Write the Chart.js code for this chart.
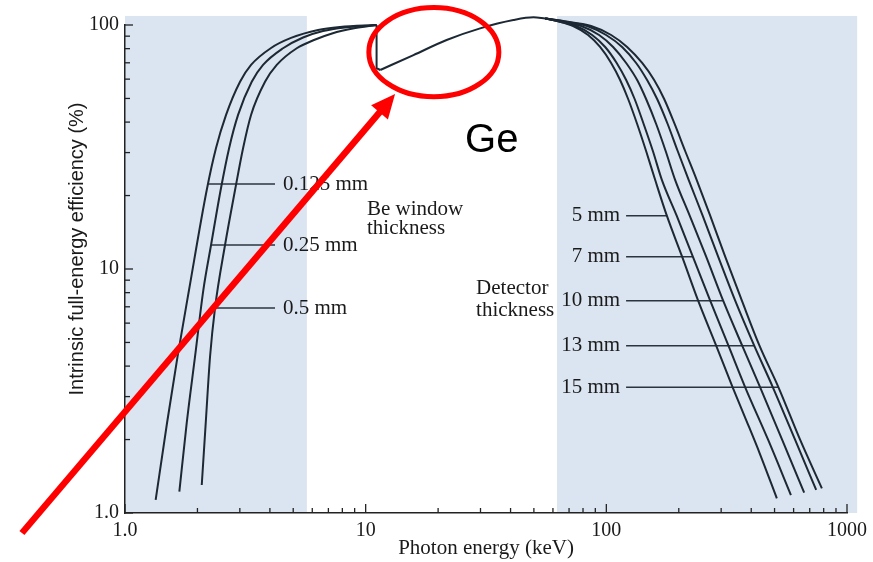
<!DOCTYPE html>
<html><head><meta charset="utf-8">
<script src="https://cdn.jsdelivr.net/npm/chart.js@4.4.1/dist/chart.umd.min.js"></script>
<style>html,body{margin:0;padding:0;background:#fff}canvas{display:block}</style>
</head><body>
<canvas id="c" width="873" height="562"></canvas>
<script>
// ---- Data (photon energy keV / intrinsic full-energy efficiency %) ----
const be0125E   = [1.341,1.495,1.653,1.845,2.186,2.389,2.630,3.006,3.340,4.045,4.897,6.342,7.83,11.1];
const be0125Eff = [1.131,2.338,4.371,8.20,21.07,31.3,42.8,58.5,68.6,80.5,88.5,95.4,98.1,100];
const be025E    = [1.682,1.805,1.954,2.116,2.278,2.506,2.706,2.950,3.362,3.746,4.536,5.493,6.65,8.21,11.1];
const be025Eff  = [1.223,2.34,4.37,8.20,12.54,21.48,31.2,42.8,58.5,68.6,80.3,88.9,94.5,97.7,100];
const be05E     = [2.084,2.165,2.256,2.366,2.604,2.866,3.093,3.340,3.818,4.271,5.172,6.10,7.25,8.95,11.1];
const be05Eff   = [1.302,2.34,4.37,6.92,12.54,21.07,31.2,42.8,58.5,68.6,80.3,86.8,92.3,96.9,100];

const edgeE     = [11.1,11.1,11.5];
const edgeEff   = [100,66.5,65.4];
const riseE     = [11.5,15.8,21.7,29.9,41.1,49.8,55.7];
const riseEff   = [65.4,75.3,86.8,96.9,104.8,107.5,106.3];

const detEff    = [106.3,103.8,99.06,90.99,81.26,69.88,59.5,49.74,39.29,30.45,23.2,16.54,11.23,7.415,4.85,3.275];
const det5E     = [55.7,62.45,72.78,84.0,94.2,104.7,114.1,123.2,134.3,146.3,159.5,178.4,206.5,240.7,286.0,334.9,381.1,433.7,511.0];
const det5Eff   = detEff.concat([2.405,1.757,1.149]);
const det7E     = [55.7,62.45,74.9,87.3,98.9,110.4,120.9,131.1,142.9,156.1,170.1,196.0,228.8,270.1,321.7,377.6,470.5,584.7];
const det7Eff   = detEff.concat([1.992,1.185]);
const det10E    = [55.7,63.65,78.6,93.3,106.7,120.9,134.3,146.3,161.1,176.4,193.1,222.0,259.9,305.8,366.9,435.7,538.0,663.8];
const det10Eff  = detEff.concat([1.992,1.211]);
const det13E    = [55.7,64.88,83.2,99.8,116.3,133.0,147.7,162.6,179.8,197.9,219.8,251.3,291.5,343.1,411.6,492.0,609.0,744.7];
const det13Eff  = detEff.concat([1.992,1.243]);
const det15E    = [55.7,66.13,86.45,104.7,122.0,140.9,158.0,173.9,192.2,212.6,237.3,270.1,311.8,365.8,432.8,519.1,639.0,786.3];
const det15Eff  = detEff.concat([1.992,1.262]);

// Labels and leader lines
const beLabels      = ['0.125 mm','0.25 mm','0.5 mm'];
const beLeaderY     = [22.3,12.54,6.92];
const beLeaderStart = [2.213,2.278,2.321];
const beLeaderEnd   = 4.2;
const beLabelX      = 4.536;
const detLabels      = ['5 mm','7 mm','10 mm','13 mm','15 mm'];
const detLeaderY     = [16.54,11.23,7.415,4.85,3.275];
const detLeaderStart = 120.8;
const detLeaderEnd   = [178.4,228.8,305.8,411.6,519.1];
const detLabelX      = 114.1;
const noteBe   = ['Be window','thickness'];  const noteBeX = 10.13;  const noteBeY = [17.57,14.68];
const noteDet  = ['Detector','thickness'];   const noteDetX = 28.77; const noteDetY = [8.336,6.79];
const geText = 'Ge'; const geX = 25.88; const geY = 33.5;

// Shaded bands (keV ranges) and top (%)
const shadeBands = [[1,5.7],[62.4,1102]];
const shadeTop = 108.9;

// Ticks
const xTicks = [1,2,3,4,5,6,7,8,9,10,20,30,40,50,60,70,80,90,100,200,300,400,500,600,700,800,900,1000];
const xMajor = [1,10,100,1000];
const xMajorLabels = ['1.0','10','100','1000'];
const yTicks = [1,2,3,4,5,6,7,8,9,10,20,30,40,50,60,70,80,90,100];
const yMajor = [1,10,100];
const yMajorLabels = ['1.0','10','100'];

// Red annotation anchors
const circleC = [19.2,77.4];
const arrowFrom = [0.373,0.828];
const arrowTo = [13.25,52.1];

// ---- Build ----
const LINE = '#1c2833';
const pts = (E,V) => E.map((x,i)=>({x, y:V[i]}));
const curve = (E,V,smooth) => ({data:pts(E,V), borderColor:LINE, borderWidth:2,
  cubicInterpolationMode: smooth ? 'monotone' : 'default', tension:0,
  pointRadius:0, clip:false, fill:false});
const datasets = [
  curve(be0125E,be0125Eff,true), curve(be025E,be025Eff,true), curve(be05E,be05Eff,true),
  curve(edgeE,edgeEff,false), curve(riseE,riseEff,true),
  curve(det5E,det5Eff,true), curve(det7E,det7Eff,true), curve(det10E,det10Eff,true),
  curve(det13E,det13Eff,true), curve(det15E,det15Eff,true)
];
beLeaderY.forEach((y,i)=>datasets.push({data:[{x:beLeaderStart[i],y},{x:beLeaderEnd,y}],borderColor:'#2a3440',borderWidth:1.5,pointRadius:0,tension:0}));
detLeaderY.forEach((y,i)=>datasets.push({data:[{x:detLeaderStart,y},{x:detLeaderEnd[i],y}],borderColor:'#2a3440',borderWidth:1.5,pointRadius:0,tension:0}));

const P = (c,x,y)=>[c.scales.x.getPixelForValue(x), c.scales.y.getPixelForValue(y)];

const decor = {
  id:'decor',
  beforeDraw(c){
    const ctx=c.ctx; ctx.save();
    ctx.fillStyle='#fff'; ctx.fillRect(0,0,c.width,c.height);
    ctx.fillStyle='#dbe5f1';
    shadeBands.forEach(([a,b])=>{
      const [l,t]=P(c,a,shadeTop); const [r,bt]=P(c,b,1);
      ctx.fillRect(l,t,r-l,bt-t);
    });
    ctx.restore();
  },
  beforeDatasetsDraw(c){
    const ctx=c.ctx, xs=c.scales.x, ys=c.scales.y, a=c.chartArea;
    ctx.save(); ctx.strokeStyle='#222'; ctx.lineWidth=1.3;
    xTicks.forEach(v=>{const p=xs.getPixelForValue(v); const L=xMajor.includes(v)?9:5;
      ctx.beginPath(); ctx.moveTo(p,a.bottom); ctx.lineTo(p,a.bottom-L); ctx.stroke();});
    yTicks.forEach(v=>{const p=ys.getPixelForValue(v); const L=yMajor.includes(v)?8:5;
      ctx.beginPath(); ctx.moveTo(a.left,p); ctx.lineTo(a.left+L,p); ctx.stroke();});
    ctx.restore();
  },
  afterDatasetsDraw(c){
    const ctx=c.ctx; ctx.save();
    ctx.fillStyle='#1a1a1a'; ctx.textBaseline='middle';
    ctx.font='21px "Liberation Serif"';
    ctx.textAlign='left';
    beLabels.forEach((t,i)=>{const [x,y]=P(c,beLabelX,beLeaderY[i]); ctx.fillText(t,x,y);});
    noteBe.forEach((t,i)=>{const [x,y]=P(c,noteBeX,noteBeY[i]); ctx.fillText(t,x,y);});
    noteDet.forEach((t,i)=>{const [x,y]=P(c,noteDetX,noteDetY[i]); ctx.fillText(t,x,y);});
    ctx.textAlign='right';
    detLabels.forEach((t,i)=>{const [x,y]=P(c,detLabelX,detLeaderY[i]); ctx.fillText(t,x,y);});
    ctx.textAlign='left'; ctx.fillStyle='#000'; ctx.font='40px "Liberation Sans"';
    {const [x,y]=P(c,geX,geY); ctx.fillText(geText,x,y);}
    // y-axis title
    ctx.save(); ctx.translate(77,249); ctx.rotate(-Math.PI/2);
    ctx.textAlign='center'; ctx.font='20px "Liberation Sans"'; ctx.fillStyle='#1a1a1a';
    ctx.fillText('Intrinsic full-energy efficiency (%)',0,0); ctx.restore();
    ctx.restore();
  },
  afterDraw(c){
    const ctx=c.ctx; ctx.save();
    ctx.strokeStyle='#fe0000'; ctx.fillStyle='#fe0000';
    const [cx,cy]=P(c,circleC[0],circleC[1]);
    ctx.lineWidth=5; ctx.beginPath(); ctx.ellipse(cx,cy,65,44.6,0,0,Math.PI*2); ctx.stroke();
    const [x0,y0]=P(c,arrowFrom[0],arrowFrom[1]); const [x1,y1]=P(c,arrowTo[0],arrowTo[1]);
    const ang=Math.atan2(y1-y0,x1-x0), HL=24, HW=11;
    const bx=x1-HL*Math.cos(ang), by=y1-HL*Math.sin(ang);
    ctx.lineWidth=6.5; ctx.lineCap='butt';
    ctx.beginPath(); ctx.moveTo(x0,y0); ctx.lineTo(bx+2*Math.cos(ang),by+2*Math.sin(ang)); ctx.stroke();
    ctx.beginPath(); ctx.moveTo(x1,y1);
    ctx.lineTo(bx+HW*Math.sin(ang), by-HW*Math.cos(ang));
    ctx.lineTo(bx-HW*Math.sin(ang), by+HW*Math.cos(ang));
    ctx.closePath(); ctx.fill();
    ctx.restore();
  }
};

new Chart(document.getElementById('c'),{
  type:'line',
  data:{datasets},
  options:{
    responsive:false, animation:false, devicePixelRatio:1,
    layout:{padding:{left:0,right:26,top:25,bottom:0}},
    plugins:{legend:{display:false},tooltip:{enabled:false}},
    elements:{point:{radius:0}},
    scales:{
      x:{type:'logarithmic',min:1,max:1000,
        grid:{display:false,drawTicks:false},
        border:{display:true,color:'#222',width:1.5},
        afterBuildTicks:s=>{s.ticks=xTicks.map(v=>({value:v}));},
        afterFit:s=>{s.height=49;},
        ticks:{autoSkip:false,maxRotation:0,minRotation:0,padding:6,color:'#1a1a1a',
          font:{family:'Liberation Serif',size:20},
          callback:v=>{const i=xMajor.indexOf(v);return i>=0?xMajorLabels[i]:'';}},
        title:{display:true,text:'Photon energy (keV)',color:'#1a1a1a',
          font:{family:'Liberation Serif',size:21},padding:{top:0,bottom:1}}
      },
      y:{type:'logarithmic',min:1,max:100,
        grid:{display:false,drawTicks:false},
        border:{display:true,color:'#222',width:1.5},
        afterBuildTicks:s=>{s.ticks=yTicks.map(v=>({value:v}));},
        afterFit:s=>{s.width=125;},
        ticks:{autoSkip:false,padding:6,color:'#1a1a1a',
          font:{family:'Liberation Serif',size:20},
          callback:v=>{const i=yMajor.indexOf(v);return i>=0?yMajorLabels[i]:'';}}
      }
    }
  },
  plugins:[decor]
});
</script>
</body></html>
